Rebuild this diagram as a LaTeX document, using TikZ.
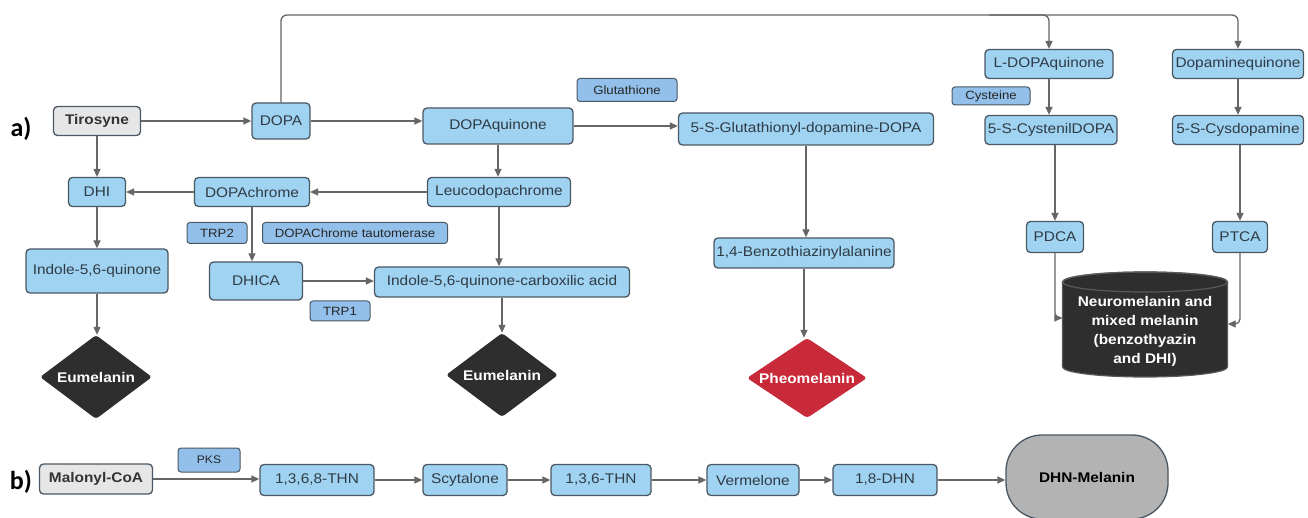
\documentclass[tikz,border=0pt]{standalone}
\usepackage{fontspec}
\setmainfont{Liberation Sans}[FakeStretch=1.1]
\newfontfamily\labfont{Carlito}
\usetikzlibrary{shapes.geometric,arrows.meta}

\definecolor{boxblue}{HTML}{9FD3F1}
\definecolor{enzblue}{HTML}{92C0EA}
\definecolor{edgec}{HTML}{4B5863}
\definecolor{txtc}{HTML}{2F3B45}
\definecolor{linec}{HTML}{666666}
\definecolor{startgray}{HTML}{E6E6E6}
\definecolor{darkc}{HTML}{2E2E2E}
\definecolor{cyledge}{HTML}{5A5A5A}
\definecolor{pheored}{HTML}{C92A3A}
\definecolor{dhngray}{HTML}{B3B3B3}

\tikzset{
  box/.style={draw=edgec, line width=1.3pt, fill=boxblue, rounded corners=4pt,
    text=txtc, font=\fontsize{14}{16}\selectfont, inner sep=1pt},
  enz/.style={draw=edgec, line width=1pt, fill=enzblue, rounded corners=3pt,
    text=black!85, font=\fontsize{12}{14}\selectfont, inner sep=1pt},
  startbox/.style={box, fill=startgray, text=black!80,
    font=\bfseries\fontsize{14}{16}\selectfont},
  conn/.style={draw=linec, line width=1.3pt, -{Triangle[length=8pt,width=7pt]}},
  dia/.style={diamond, fill=darkc, rounded corners=3pt, inner sep=0pt, aspect=1.3,
    text=white, font=\bfseries\fontsize{14}{16}\selectfont},
  lab/.style={font=\labfont\bfseries\fontsize{26}{28}\selectfont, inner sep=0pt}
}

\begin{document}
\begin{tikzpicture}[x=1pt,y=-1pt]
\useasboundingbox[fill=white] (0,0) rectangle (1308,518);

% labels
\node[lab] (la) at (21,129) {a)};
\node[lab] (lb) at (21,482) {b)};

% top row
\node[startbox, minimum width=87, minimum height=29] (tir) at (97,121) {Tirosyne};
\node[box, minimum width=58, minimum height=36] (dopa) at (281,121) {DOPA};
\node[box, minimum width=150, minimum height=36] (dq) at (498,126) {DOPAquinone};
\node[enz, minimum width=100, minimum height=23] (glu) at (627,90) {Glutathione};
\node[box, minimum width=255, minimum height=32] (gsd) at (806,129) {5-S-Glutathionyl-dopamine-DOPA};
\node[box, minimum width=128, minimum height=29] (ldq) at (1049,64) {L-DOPAquinone};
\node[enz, minimum width=78, minimum height=18] (cys) at (991,96) {Cysteine};
\node[box, minimum width=132, minimum height=29] (scd) at (1051,130) {5-S-CystenilDOPA};
\node[box, minimum width=131, minimum height=29] (dmq) at (1238,64) {Dopaminequinone};
\node[box, minimum width=131, minimum height=29] (scdm) at (1238,130) {5-S-Cysdopamine};
\node[box, minimum width=57, minimum height=31] (pdca) at (1055,237) {PDCA};
\node[box, minimum width=55, minimum height=31] (ptca) at (1240,237) {PTCA};

% middle rows
\node[box, minimum width=57, minimum height=29] (dhi) at (97,192) {DHI};
\node[box, minimum width=115, minimum height=29] (dc) at (252,192) {DOPAchrome};
\node[box, minimum width=143, minimum height=29] (leu) at (499,192) {Leucodopachrome};
\node[enz, minimum width=60, minimum height=21] (trp2) at (217,233) {TRP2};
\node[enz, minimum width=185, minimum height=21] (dct) at (355,233) {DOPAChrome tautomerase};
\node[box, minimum width=142, minimum height=44] (i56) at (97,271) {Indole-5,6-quinone};
\node[box, minimum width=93, minimum height=38] (dhica) at (256,281) {DHICA};
\node[box, minimum width=255, minimum height=30] (icarb) at (502,282) {Indole-5,6-quinone-carboxilic acid};
\node[enz, minimum width=60, minimum height=20] (trp1) at (340,311) {TRP1};
\node[box, minimum width=180, minimum height=30] (benz) at (804,253) {1,4-Benzothiazinylalanine};

% end products
\node[dia, minimum width=112, minimum height=84] (eu1) at (96,377) {Eumelanin};
\node[dia, minimum width=112, minimum height=84] (eu2) at (502,375) {Eumelanin};
\node[dia, fill=pheored, aspect=1.5, minimum width=120, minimum height=80] (pheo) at (807,378) {Pheomelanin};

% cylinder
\path[fill=darkc, draw=cyledge, line width=1.2pt]
  (1062.5,282) -- (1062.5,367)
  arc[start angle=180, end angle=360, x radius=82.5pt, y radius=10pt]
  -- (1227.5,282)
  arc[start angle=0, end angle=180, x radius=82.5pt, y radius=10pt] -- cycle;
\draw[cyledge, line width=1.2pt] (1145,282) ellipse[x radius=82.5pt, y radius=10pt];
\node[minimum width=165, minimum height=106, inner sep=0pt, align=center, text=white,
  font=\bfseries\fontsize{14}{19}\selectfont] (cyl) at (1145,331)
  {Neuromelanin and\\mixed melanin\\(benzothyazin\\and DHI)};

% bottom row
\node[startbox, minimum width=113, minimum height=30] (mal) at (96,479) {Malonyl-CoA};
\node[enz, font=\fontsize{11}{13}\selectfont, minimum width=62, minimum height=24] (pks) at (209,460) {PKS};
\node[box, minimum width=114, minimum height=31] (thn4) at (317,480) {1,3,6,8-THN};
\node[box, minimum width=84, minimum height=31] (scy) at (465,480) {Scytalone};
\node[box, minimum width=100, minimum height=31] (thn3) at (601,480) {1,3,6-THN};
\node[box, minimum width=92, minimum height=31] (ver) at (753,480) {Vermelone};
\node[box, minimum width=104, minimum height=31] (dhn) at (885,480) {1,8-DHN};
\node[draw=edgec, line width=1.3pt, fill=dhngray, rounded corners=36pt,
  minimum width=162, minimum height=84, text=black,
  font=\bfseries\fontsize{14}{16}\selectfont] (dhnm) at (1087,477) {DHN-Melanin};

% connectors: top
\draw[conn] (tir.east) -- (tir.east -| dopa.west);
\draw[conn] (dopa.east) -- (dopa.east -| dq.west);
\draw[conn] (dq.east) -- (dq.east -| gsd.west);
\draw[conn, rounded corners=6pt] (dopa.north) |- (dmq.north |- 0,15) -- (dmq.north);
\draw[conn, rounded corners=6pt] ([xshift=-60pt]ldq.north |- 0,15) -- (ldq.north |- 0,15) -- (ldq.north);

% connectors: left part
\draw[conn] (dq.south) -- (dq.south |- leu.north);
\draw[conn] (leu.west) -- (dc.east);
\draw[conn] (dc.west) -- (dhi.east);
\draw[conn] (tir.south) -- (tir.south |- dhi.north);
\draw[conn] (dhi.south) -- (dhi.south |- i56.north);
\draw[conn] (dc.south) -- (dc.south |- dhica.north);
\draw[conn] (dhica.east) -- (dhica.east -| icarb.west);
\draw[conn] (leu.south) -- (leu.south |- icarb.north);
\draw[conn] (i56.south) -- (i56.south |- eu1.north);
\draw[conn] (icarb.south) -- (icarb.south |- eu2.north);

% connectors: pheomelanin branch
\draw[conn] (gsd.south) -- (gsd.south |- benz.north);
\draw[conn] (benz.south) -- (benz.south |- pheo.north);

% connectors: right part
\draw[conn] (ldq.south) -- (ldq.south |- scd.north);
\draw[conn] (dmq.south) -- (dmq.south |- scdm.north);
\draw[conn] (pdca.north |- scd.south) -- (pdca.north);
\draw[conn] (ptca.north |- scdm.south) -- (ptca.north);
\draw[conn, rounded corners=5pt] (pdca.south) |- ([yshift=13pt]cyl.west);
\draw[conn, rounded corners=5pt] (ptca.south) |- ([yshift=7pt]cyl.east);

% connectors: bottom row
\draw[conn] (mal.east) -- (mal.east -| thn4.west);
\draw[conn] (thn4.east) -- (scy.west);
\draw[conn] (scy.east) -- (thn3.west);
\draw[conn] (thn3.east) -- (ver.west);
\draw[conn] (ver.east) -- (dhn.west);
\draw[conn] (dhn.east) -- (dhn.east -| dhnm.west);
\end{tikzpicture}
\end{document}
